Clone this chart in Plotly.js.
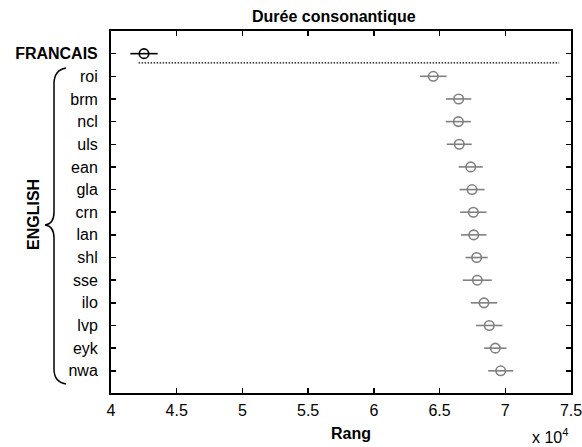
<!DOCTYPE html>
<html>
<head>
<meta charset="utf-8">
<script src="https://cdn.plot.ly/plotly-3.0.1.min.js"></script>
<style>html,body{margin:0;padding:0;background:#fff;}#chart{width:582px;height:447px;}</style>
</head>
<body>
<div id="chart"></div>
<script>
// Data
var frLabel = ["FRANCAIS"];
var frValues = [42510];
var frErrors = [1040];

var enLabels = ["roi","brm","ncl","uls","ean","gla","crn","lan","shl","sse","ilo","lvp","eyk","nwa"];
var enValues = [64520,66450,66430,66500,67370,67470,67570,67600,67820,67870,68380,68780,69240,69650];
var enErrors = [1010,965,950,950,915,950,1000,965,840,1100,1000,1000,850,950];

var xTickVals = [40000,45000,50000,55000,60000,65000,70000,75000];
var xTickText = ["4","4.5","5","5.5","6","6.5","7","7.5"];

var sepX = [42100, 74100];
var sepPos = 0.41;

var allLabels = frLabel.concat(enLabels);
var yIdx = allLabels.map(function(_, i){ return i; });
var tickText = allLabels.map(function(l, i){ return i === 0 ? "<b>" + l + "</b>" : l; });

var gray = "#808080";
var font = "Liberation Sans, Arial, Helvetica, sans-serif";

var traces = [
  {
    x: frValues, y: yIdx.slice(0, 1), type: "scatter", mode: "markers",
    marker: {symbol: "circle-open", size: 9.5, color: "#000", line: {width: 1.6, color: "#000"}},
    error_x: {type: "data", array: frErrors, color: "#000", thickness: 1.6, width: 0},
    showlegend: false
  },
  {
    x: enValues, y: yIdx.slice(1), type: "scatter", mode: "markers",
    marker: {symbol: "circle-open", size: 9.5, color: gray, line: {width: 1.6, color: gray}},
    error_x: {type: "data", array: enErrors, color: gray, thickness: 1.6, width: 0},
    showlegend: false
  },
  {
    x: sepX, y: sepX.map(function(){ return sepPos; }), type: "scatter", mode: "lines",
    line: {color: "#000", width: 1.3, dash: "1.5px,1.5px"},
    showlegend: false, hoverinfo: "skip"
  }
];

// pixel -> paper helpers (plot area 111..571 x 31..393)
function px(x){ return (x - 111) / 460; }
function py(y){ return (393 - y) / 362; }

var bracePath = "M " + px(66) + " " + py(68) +
  " Q " + px(54) + " " + py(70) + " " + px(54) + " " + py(84) +
  " L " + px(54) + " " + py(212) +
  " Q " + px(54) + " " + py(224) + " " + px(45) + " " + py(225) +
  " Q " + px(54) + " " + py(226) + " " + px(54) + " " + py(238) +
  " L " + px(54) + " " + py(369) +
  " Q " + px(54) + " " + py(382) + " " + px(66) + " " + py(384);

var layout = {
  width: 582, height: 447,
  margin: {l: 111, r: 11, t: 31, b: 54, pad: 0},
  paper_bgcolor: "#fff", plot_bgcolor: "#fff",
  font: {family: font, size: 16, color: "#000"},
  xaxis: {
    range: [40000, 75000], tickvals: xTickVals, ticktext: xTickText,
    showgrid: false, zeroline: false, showline: true, linecolor: "#000", linewidth: 2,
    mirror: "ticks", ticks: "inside", ticklen: 5, tickwidth: 1.5, tickcolor: "#000",
    tickfont: {family: font, size: 16, color: "#000"}, ticklabelstandoff: 2,
    ticklabeloverflow: "allow"
  },
  yaxis: {
    range: [14.98, -1.0], tickvals: yIdx, ticktext: tickText,
    showgrid: false, zeroline: false, showline: true, linecolor: "#000", linewidth: 2,
    mirror: "ticks", ticks: "inside", ticklen: 5, tickwidth: 1.5, tickcolor: "#000",
    tickfont: {family: font, size: 16, color: "#000"}, ticklabelstandoff: 8
  },
  shapes: [
    {type: "path", xref: "paper", yref: "paper", path: bracePath,
     line: {color: "#000", width: 1.5}, fillcolor: "rgba(0,0,0,0)"}
  ],
  annotations: [
    {text: "<b>Durée consonantique</b>", xref: "paper", yref: "paper",
     x: px(334), y: py(16.5), xanchor: "center", yanchor: "middle", showarrow: false,
     font: {family: font, size: 16, color: "#000"}},
    {text: "<b>Rang</b>", xref: "paper", yref: "paper",
     x: px(351), y: py(433), xanchor: "center", yanchor: "middle", showarrow: false,
     font: {family: font, size: 16, color: "#000"}},
    {text: "x 10<sup>4</sup>", xref: "paper", yref: "paper",
     x: px(530), y: py(436), xanchor: "left", yanchor: "middle", showarrow: false,
     font: {family: font, size: 16, color: "#000"}},
    {text: "<b>ENGLISH</b>", xref: "paper", yref: "paper",
     x: px(33), y: py(215), xanchor: "center", yanchor: "middle", showarrow: false,
     textangle: -90, font: {family: font, size: 16, color: "#000"}}
  ]
};

Plotly.newPlot("chart", traces, layout, {displayModeBar: false, staticPlot: true});
</script>
</body>
</html>
